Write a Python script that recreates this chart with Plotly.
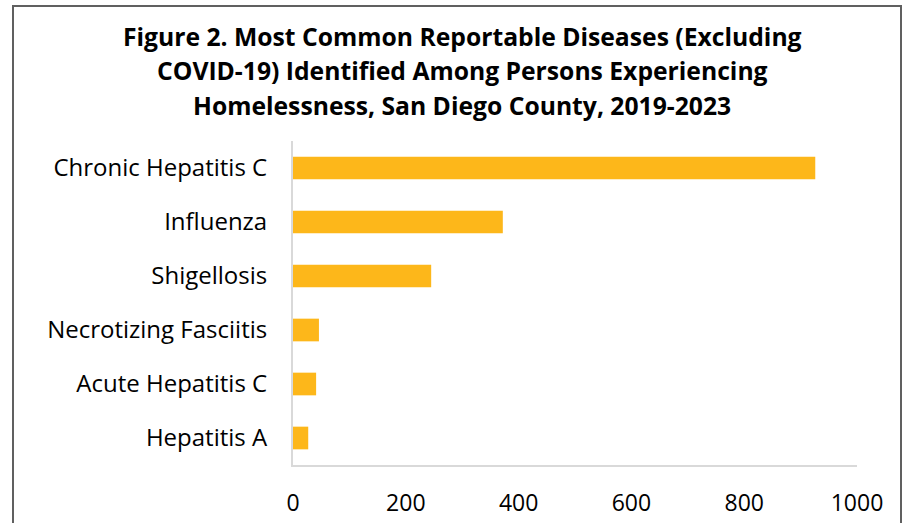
import plotly.graph_objects as go

categories = ["Chronic Hepatitis C", "Influenza", "Shigellosis",
              "Necrotizing Fasciitis", "Acute Hepatitis C", "Hepatitis A"]
counts = [926, 372, 245, 46, 41, 27]
x_ticks = [0, 200, 400, 600, 800, 1000]

title_lines = ["Figure 2. Most Common Reportable Diseases (Excluding",
               "COVID-19) Identified Among Persons Experiencing",
               "Homelessness, San Diego County, 2019-2023"]

FONT = "Open Sans"

fig = go.Figure(go.Bar(
    y=categories, x=counts, orientation="h",
    marker=dict(color="#FDB71A", line=dict(width=0)),
))

W, H = 905, 523
L, R, T, B = 293, 48, 141, 58
pw = W - L - R
ph = H - T - B


def px_x(p):
    return (p - L) / pw


def px_y(p):
    return (H - B - p) / ph


title_centers = [37, 71, 106]
annotations = [dict(text="<b>%s</b>" % t, xref="paper", yref="paper",
                    x=px_x(462), y=px_y(cy), xanchor="center", yanchor="middle",
                    showarrow=False, font=dict(family=FONT, size=24.7, color="black"))
               for t, cy in zip(title_lines, title_centers)]

fig.update_layout(
    width=W, height=H,
    margin=dict(l=L, r=R, t=T, b=B, autoexpand=False),
    paper_bgcolor="white", plot_bgcolor="white",
    bargap=0.58,
    showlegend=False,
    font=dict(family=FONT, color="black"),
    annotations=annotations,
    xaxis=dict(range=[0, 1000], tickvals=x_ticks, ticktext=[str(v) for v in x_ticks],
               showgrid=False, zeroline=False, showline=True,
               linecolor="#D9D9D9", linewidth=2, ticks="",
               tickfont=dict(family=FONT, size=23, color="black"),
               ticklabelstandoff=16, automargin=False),
    yaxis=dict(categoryorder="array", categoryarray=categories[::-1],
               showgrid=False, zeroline=False, showline=True,
               linecolor="#D9D9D9", linewidth=2, ticks="",
               tickfont=dict(family=FONT, size=24, color="black"),
               ticklabelstandoff=19, automargin=False),
    shapes=[dict(type="rect", xref="paper", yref="paper",
                 x0=px_x(13), x1=px_x(901),
                 y0=px_y(540), y1=px_y(6),
                 line=dict(color="#606060", width=2), fillcolor="rgba(0,0,0,0)",
                 layer="below")],
)

fig.write_html("out.html", config={"displayModeBar": False},
               post_script="document.body.style.margin='0';document.body.style.overflow='hidden';")
